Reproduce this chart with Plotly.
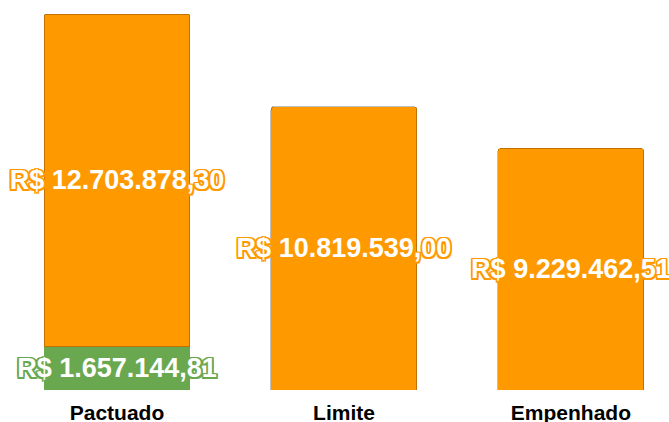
import plotly.graph_objects as go

# valores
categorias = ['Pactuado', 'Limite', 'Empenhado']
valores_laranja = [12703878.30, 10819539.00, 9229462.51]
categoria_verde = ['Pactuado']
valores_verde = [1657144.81]

LARANJA = '#ff9900'
VERDE = '#6aa84f'


def brl(v):
    """Formata no padrão R$ 1.234,56"""
    s = f'{v:,.2f}'.replace(',', 'X').replace('.', ',').replace('X', '.')
    return 'R$ ' + s


def contorno(cor, d=1.6):
    """text-shadow que simula um contorno em volta do texto"""
    offs = [(-d, -d), (d, -d), (-d, d), (d, d), (0, d), (0, -d), (d, 0), (-d, 0)]
    return ', '.join(f'{x}px {y}px 0 {cor}' for x, y in offs)


fig = go.Figure()

fig.add_trace(go.Bar(
    x=categoria_verde,
    y=valores_verde,
    marker=dict(color=VERDE, line=dict(width=0)),
    text=[brl(v) for v in valores_verde],
    textposition='inside',
    insidetextanchor='middle',
    textangle=0,
    constraintext='none',
    cliponaxis=False,
    textfont=dict(family='Liberation Sans, Arial', size=27, color='white',
                  weight='bold', shadow=contorno(VERDE)),
    hoverinfo='skip',
))

fig.add_trace(go.Bar(
    x=categorias,
    y=valores_laranja,
    marker=dict(color=LARANJA, line=dict(width=1, color='rgba(0,0,0,0.25)')),
    text=[brl(v) for v in valores_laranja],
    textposition='inside',
    insidetextanchor='middle',
    textangle=0,
    constraintext='none',
    cliponaxis=False,
    textfont=dict(family='Liberation Sans, Arial', size=27, color='white',
                  weight='bold', shadow=contorno(LARANJA)),
    hoverinfo='skip',
))

total_max = valores_verde[0] + valores_laranja[0]

fig.update_layout(
    width=669,
    height=422,
    barmode='stack',
    bargap=0.357,
    barcornerradius=3,
    showlegend=False,
    plot_bgcolor='white',
    paper_bgcolor='white',
    margin=dict(l=0, r=0, t=14, b=32),
    xaxis=dict(
        range=[-0.5154, 2.432],
        showgrid=False,
        showline=False,
        ticks='',
        automargin=False,
        ticklabelstandoff=8,
        tickfont=dict(family='Liberation Sans, Arial', size=21, color='black',
                      weight='bold'),
    ),
    yaxis=dict(
        range=[0, total_max],
        visible=False,
        showgrid=False,
        automargin=False,
    ),
)

fig.write_html('out.html', config={'displayModeBar': False},
               post_script="document.body.style.margin='0';")
